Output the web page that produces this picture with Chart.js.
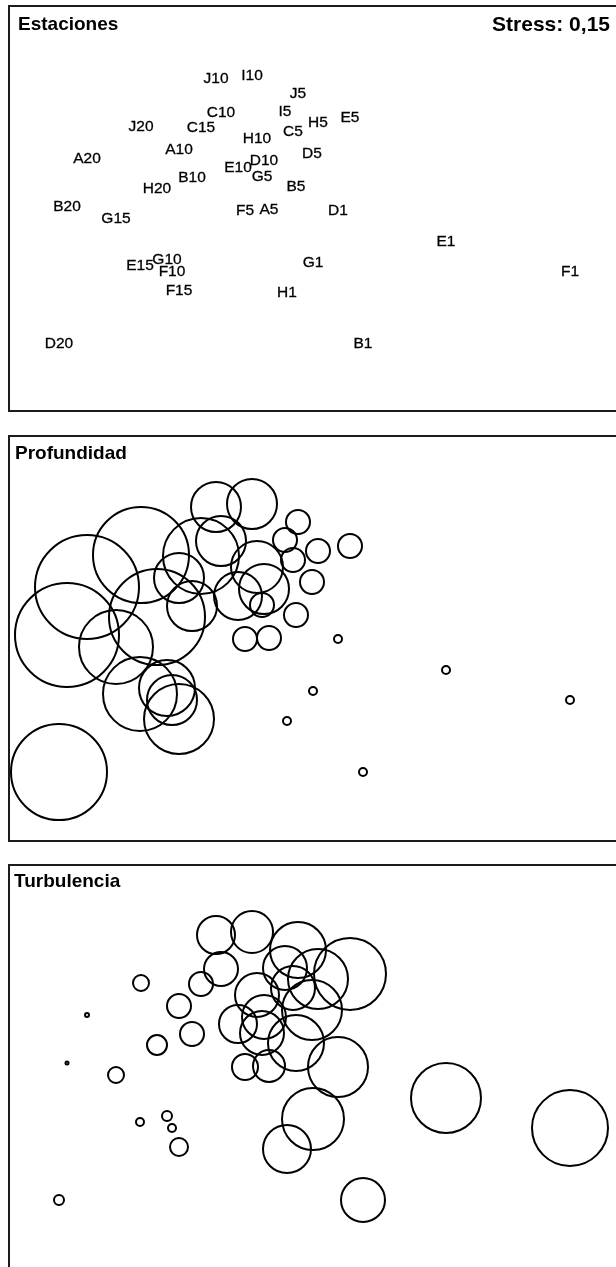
<!DOCTYPE html>
<html>
<head>
<meta charset="utf-8">
<script src="https://cdn.jsdelivr.net/npm/chart.js@4"></script>
<style>
    body { margin: 0; width: 616px; height: 1267px; overflow: hidden; background: #fff; position: relative; font-family: "Liberation Sans", Arial, sans-serif; }
    .panel { position: absolute; left: 8px; width: 636px; height: 403px; border: 2px solid #1c1c1c; }
    .panel canvas { display: block; }
    .title { position: absolute; font-weight: bold; font-size: 19px; line-height: 1; color: #000; white-space: nowrap; }
</style>
</head>
<body>
<div class="panel" style="top:5px"><canvas id="estaciones" width="636" height="403"></canvas></div>
<div class="panel" style="top:435px"><canvas id="profundidad" width="636" height="403"></canvas></div>
<div class="panel" style="top:864px"><canvas id="turbulencia" width="636" height="403"></canvas></div>
<div class="title" style="left:18px; top:14px">Estaciones</div>
<div class="title" style="right:6px; top:13px; font-size:21px">Stress: 0,15</div>
<div class="title" style="left:15px; top:443px">Profundidad</div>
<div class="title" style="left:14px; top:871px">Turbulencia</div>
<script>
// Station names and MDS coordinates
const stations = ["J10", "I10", "J5", "I5", "C10", "H5", "E5", "J20", "C15", "C5",
    "H10", "A10", "D5", "A20", "D10", "E10", "G5", "B10", "H20", "B5",
    "B20", "F5", "A5", "D1", "G15", "E1", "E15", "G10", "F10", "G1",
    "F1", "F15", "H1", "D20", "B1"];
const coordX = [-0.84, -0.48, -0.02, -0.15, -0.79, 0.18, 0.50, -1.59, -0.99, -0.07,
    -0.43, -1.21, 0.12, -2.13, -0.36, -0.62, -0.38, -1.08, -1.43, -0.04,
    -2.33, -0.55, -0.31, 0.38, -1.84, 1.46, -1.60, -1.33, -1.28, 0.13,
    2.70, -1.21, -0.13, -2.41, 0.63];
const coordY = [1.21, 1.24, 1.06, 0.88, 0.87, 0.77, 0.82, 0.73, 0.72, 0.68,
    0.61, 0.50, 0.46, 0.41, 0.39, 0.32, 0.23, 0.22, 0.11, 0.13,
    -0.07, -0.11, -0.10, -0.11, -0.19, -0.42, -0.66, -0.60, -0.72, -0.63,
    -0.72, -0.91, -0.93, -1.44, -1.44];

// Bubble sizes per variable
const profundidad = [25, 25, 12, 12, 25, 12, 12, 48, 38, 12,
    26, 25, 12, 52, 25, 24, 12, 25, 48, 12,
    52, 12, 12, 4, 37, 4, 37, 28, 25, 4,
    4, 35, 4, 48, 4];
const turbulencia = [19, 21, 28, 22, 17, 30, 36, 8, 12, 22,
    22, 12, 30, 2, 22, 19, 22, 12, 10, 28,
    1.5, 13, 16, 30, 8, 35, 4, 5, 4, 31,
    38, 9, 24, 5, 22];

// x runs the same for all panels, y shifted a bit per panel
function scales(yMax) {
    return {
        x: { type: "linear", min: -2.9, max: 3.46, display: false },
        y: { type: "linear", min: yMax - 4.03, max: yMax, display: false }
    };
}

const baseOptions = (yMax) => ({
    responsive: false,
    animation: false,
    devicePixelRatio: 1,
    layout: { autoPadding: false, padding: 0 },
    plugins: { legend: { display: false }, tooltip: { enabled: false } },
    scales: scales(yMax)
});

// write station names at the point positions
const stationLabels = {
    id: "stationLabels",
    afterDatasetsDraw(chart) {
        const ctx = chart.ctx;
        const meta = chart.getDatasetMeta(0);
        ctx.save();
        ctx.font = '15.5px "Liberation Sans", Arial, sans-serif';
        ctx.fillStyle = "#000";
        ctx.strokeStyle = "#000";
        ctx.lineWidth = 0.3;
        ctx.textAlign = "center";
        ctx.textBaseline = "middle";
        meta.data.forEach((el, i) => {
            ctx.fillText(stations[i], el.x, el.y);
            ctx.strokeText(stations[i], el.x, el.y);
        });
        ctx.restore();
    }
};

function bubbles(sizes) {
    return stations.map((s, i) => ({ x: coordX[i], y: coordY[i], r: sizes[i] }));
}

new Chart(document.getElementById("estaciones"), {
    type: "scatter",
    data: {
        datasets: [{
            data: stations.map((s, i) => ({ x: coordX[i], y: coordY[i] })),
            pointRadius: 0
        }]
    },
    options: baseOptions(1.93),
    plugins: [stationLabels]
});

const bubbleStyle = {
    backgroundColor: "rgba(0,0,0,0)",
    borderColor: "#000",
    borderWidth: 2
};

new Chart(document.getElementById("profundidad"), {
    type: "bubble",
    data: { datasets: [{ data: bubbles(profundidad), ...bubbleStyle }] },
    options: baseOptions(1.91)
});

new Chart(document.getElementById("turbulencia"), {
    type: "bubble",
    data: { datasets: [{ data: bubbles(turbulencia), ...bubbleStyle }] },
    options: baseOptions(1.90)
});
</script>
</body>
</html>
